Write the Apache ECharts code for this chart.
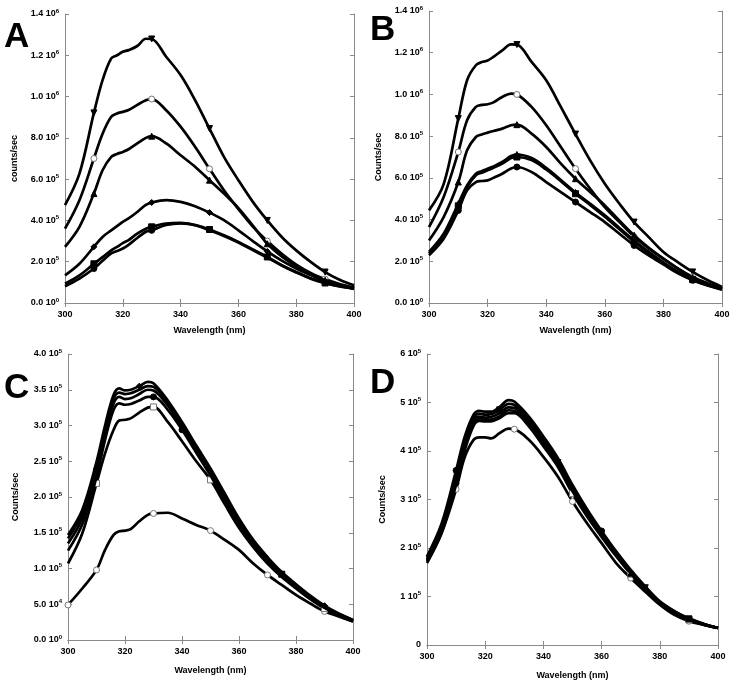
<!DOCTYPE html>
<html><head><meta charset="utf-8">
<script src="https://cdn.jsdelivr.net/npm/echarts@6/dist/echarts.min.js"></script>
<style>html,body{margin:0;padding:0;background:#fff}#c{width:734px;height:685px}</style>
</head><body><div id="c"></div>
<script>
// wavelength grid (nm)
const WL = [300,305,310,313,316,318,320,322,325,328,330,335,340,345,350,355,360,365,370,375,380,385,390,395,400];
const UNIT = 1000; // values below are in thousands of counts/sec

// Panel A
const A1 = [474,627,921,1080,1185,1200,1217,1225,1245,1280,1279,1193,1104,983,845,708,595,490,400,320,255,199,150,113,86];
const A2 = [360,498,700,820,902,918,926,935,960,982,988,934,854,757,650,546,455,370,300,238,186,146,116,92,75];
const A3 = [272,369,530,643,708,722,732,745,773,800,808,773,716,660,595,530,460,375,287,226,178,139,110,88,72];
const A4 = [134,190,272,320,352,372,393,410,441,475,487,498,490,469,438,401,352,300,250,205,167,135,105,84,68];
const A5 = [94,134,190,222,255,272,290,305,336,360,369,385,388,377,356,328,296,259,223,183,150,120,97,82,74];
const A6 = [81,118,167,205,240,252,264,282,315,345,352,378,386,378,352,325,293,256,220,182,148,118,96,80,70];
// Panel B
const B1 = [444,570,884,1068,1140,1155,1163,1180,1211,1240,1239,1156,1068,940,810,684,572,476,388,316,245,195,149,110,77];
const B2 = [364,508,724,876,940,950,953,962,988,1004,1000,940,852,748,644,548,460,388,318,262,212,165,125,95,70];
const B3 = [300,412,580,732,796,808,817,825,836,852,855,812,748,668,596,532,468,395,325,265,213,165,122,92,69];
const B4 = [245,332,476,564,620,632,644,655,676,705,712,695,648,590,530,476,420,360,300,245,195,150,115,88,68];
const B5 = [238,325,466,556,612,625,636,648,668,695,700,685,640,584,524,470,414,354,294,240,190,146,112,86,66];
const B6 = [229,308,444,540,580,585,588,600,620,645,652,628,580,532,484,436,388,332,276,228,185,142,109,84,64];
// Panel C
const C1 = [49,72,98,126,147,152,153,155,166,175,177,178,170,161,153,140,126,107,91,77,63,51,40,33,26];
const C2 = [107,149,219,261,294,307,308,310,318,325,326,305,278,250,224,190,157,130,107,88,72,57,44,34,26];
const C3 = [125,162,228,280,322,331,329,330,335,340,340,322,294,262,230,196,162,134,110,90,74,59,45,35,27];
const C4 = [135,170,236,288,331,340,337,338,344,350,349,328,298,266,234,199,165,136,112,92,76,60,46,36,27];
const C5 = [142,177,243,295,338,346,344,345,350,355,354,332,302,269,237,202,167,138,114,93,77,61,47,36,28];
const C6 = [147,182,249,300,343,352,349,350,355,361,359,335,305,272,240,205,170,140,116,95,78,62,48,37,28];
// Panel D
const D1 = [169,230,321,388,423,428,428,426,437,446,445,423,388,347,296,251,210,169,138,110,83,62,49,42,35];
const D2 = [172,232,330,402,452,462,461,461,468,478,478,451,410,367,312,265,223,183,146,114,86,66,52,42,35];
const D3 = [175,236,338,410,457,466,465,465,472,484,483,456,415,372,317,269,226,185,148,116,87,67,53,42,35];
const D4 = [177,240,345,418,463,471,469,470,478,490,489,461,420,376,321,272,229,188,150,118,88,68,53,43,35];
const D5 = [180,245,352,424,469,477,475,476,485,497,495,466,425,380,325,276,232,190,152,119,89,69,54,43,35];
const D6 = [183,250,360,430,475,483,481,481,491,505,502,471,430,385,330,280,235,193,155,121,90,70,55,44,35];

// tick labels [mantissa, exponent]
const AB_YTICKS = [['0.0','0'],['2.0','5'],['4.0','5'],['6.0','5'],['8.0','5'],['1.0','6'],['1.2','6'],['1.4','6']];
const C_YTICKS = [['0.0','0'],['5.0','4'],['1.0','5'],['1.5','5'],['2.0','5'],['2.5','5'],['3.0','5'],['3.5','5'],['4.0','5']];
const D_YTICKS = [['0',''],['1','5'],['2','5'],['3','5'],['4','5'],['5','5'],['6','5']];

const PANELS = [
  {letter:'A', yname:'counts/sec', series:[A1,A2,A3,A4,A5,A6], max:1.4e6, step:2e5, ticks:AB_YTICKS,
   sym:[['triangle',180,'#000'],['circle',0,'#fff'],['triangle',0,'#000'],['diamond',0,'#000'],['rect',0,'#000'],['circle',0,'#000']],
   marks:[[310,330,350,370,390],[310,330,350,370,390],[310,330,350,370,390],[310,330,350,370,390],[310,330,350,370,390],[310,330]]},
  {letter:'B', yname:'Counts/sec', series:[B1,B2,B3,B4,B5,B6], max:1.4e6, step:2e5, ticks:AB_YTICKS,
   sym:[['triangle',180,'#000'],['circle',0,'#fff'],['triangle',0,'#000'],['triangle',0,'#000'],['rect',0,'#000'],['circle',0,'#000']],
   marks:[[310,330,350,370,390],[310,330,350,370,390],[310,330,350,370,390],[310,330,350,370,390],[310,330,350,370,390],[310,330,350,370,390]]},
  {letter:'C', yname:'Counts/sec', series:[C1,C2,C3,C4,C5,C6], max:4e5, step:5e4, ticks:C_YTICKS,
   sym:[['circle',0,'#fff'],['rect',0,'#fff'],['circle',0,'#000'],['rect',0,'#000'],['triangle',0,'#000'],['diamond',0,'#000']],
   marks:[[300,310,330,350,370,390],[310,330,350,390],[330,340],[305,375],[310,370],[325,390]]},
  {letter:'D', yname:'Counts/sec', series:[D1,D2,D3,D4,D5,D6], max:6e5, step:1e5, ticks:D_YTICKS,
   sym:[['circle',0,'#fff'],['rect',0,'#fff'],['triangle',0,'#000'],['triangle',180,'#000'],['rect',0,'#000'],['circle',0,'#000']],
   marks:[[310,330,350,370,390],[350,370,390],[310,370],[345,375],[325,390],[310,360]]}
];

const GRIDS = [
  {left:65, top:14, width:289, height:289, yGap:46, xGap:23, lx:16, ly:40},
  {left:429, top:11, width:293, height:292, yGap:46, xGap:23, lx:382, ly:33},
  {left:68, top:354, width:285, height:286, yGap:48, xGap:26, lx:16, ly:391},
  {left:427, top:354, width:291, height:291, yGap:40, xGap:26, lx:382, ly:386}
];

const FONT = '"Liberation Sans", Arial, sans-serif';
const AX = '#8a8a8a';
const option = {animation:false, backgroundColor:'#fff', grid:[], xAxis:[], yAxis:[], series:[], graphic:[]};

PANELS.forEach((p, i) => {
  const g = GRIDS[i];
  option.grid.push({left:g.left, top:g.top, width:g.width, height:g.height, containLabel:false});
  const tick = {show:true, inside:true, length:4, lineStyle:{color:AX, width:1}};
  option.xAxis.push({type:'value', gridIndex:i, min:300, max:400, interval:20,
    name:'Wavelength (nm)', nameLocation:'middle', nameGap:g.xGap,
    nameTextStyle:{fontFamily:FONT, fontWeight:'bold', fontSize:9, color:'#000'},
    axisLine:{show:true, lineStyle:{color:AX, width:1}}, axisTick:tick, splitLine:{show:false},
    axisLabel:{fontFamily:FONT, fontWeight:'bold', fontSize:9, color:'#000', margin:7}});
  option.xAxis.push({type:'value', gridIndex:i, position:'top', min:300, max:400, interval:20,
    axisLine:{show:true, lineStyle:{color:AX, width:1}}, axisTick:tick, splitLine:{show:false}, axisLabel:{show:false}});
  const ticks = p.ticks, step = p.step;
  option.yAxis.push({type:'value', gridIndex:i, min:0, max:p.max, interval:step,
    name:p.yname, nameLocation:'middle', nameGap:g.yGap, nameRotate:90,
    nameTextStyle:{fontFamily:FONT, fontWeight:'bold', fontSize:9, color:'#000'},
    axisLine:{show:true, lineStyle:{color:AX, width:1}}, axisTick:tick, splitLine:{show:false},
    axisLabel:{margin:6, formatter:(v)=>{const t=ticks[Math.round(v/step)]; if(!t) return ''; return t[1]===''?`{m|${t[0]}}`:`{m|${t[0]} 10}{e|${t[1]}}`;},
      rich:{m:{fontFamily:FONT, fontWeight:'bold', fontSize:9, color:'#000'}, e:{fontFamily:FONT, fontWeight:'bold', fontSize:6, color:'#000', padding:[0,0,6,0]}}}});
  option.yAxis.push({type:'value', gridIndex:i, position:'right', min:0, max:p.max, interval:step,
    axisLine:{show:true, lineStyle:{color:AX, width:1}}, axisTick:tick, splitLine:{show:false}, axisLabel:{show:false}});
  p.series.forEach((arr, k) => {
    const [sym, rot, fill] = p.sym[k];
    const marks = p.marks[k];
    option.series.push({type:'line', xAxisIndex:2*i, yAxisIndex:2*i, smooth:0.35, showSymbol:true, showAllSymbol:true,
      symbolRotate:rot, symbolSize:6, z:2+k,
      lineStyle:{color:'#000', width:2.7}, itemStyle:{color:fill, borderColor: fill==='#fff' ? '#777' : '#000', borderWidth:1},
      emphasis:{disabled:true},
      data: WL.map((x, j) => ({value:[x, arr[j]*UNIT], symbol: marks.includes(x) ? sym : 'none'}))});
  });
  option.graphic.push({type:'text', left:g.lx-12, top:g.ly-20, style:{text:p.letter, fontFamily:FONT, fontWeight:'bold', fontSize:35, fill:'#000'}});
});

const chart = echarts.init(document.getElementById('c'));
chart.setOption(option);
</script></body></html>
